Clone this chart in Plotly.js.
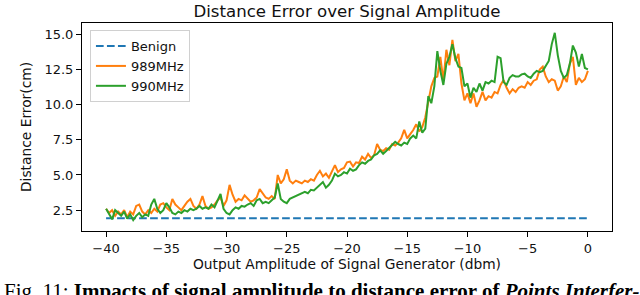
<!DOCTYPE html>
<html><head><meta charset="utf-8">
<script src="https://cdn.plot.ly/plotly-3.0.1.min.js"></script>
<style>html,body{margin:0;padding:0;background:#fff;overflow:hidden;} #chart{width:640px;height:295px;}</style>
</head><body><div id="chart"></div>
<script>
// x grid: -40 dBm to 0 dBm, one reading every 0.25 dBm
const xStart = -40;
const xStep = 0.25;

const err989 = [
  2.6, 2.3, 2.5, 2.1,
  2.4, 2.2, 2.5, 2.0,
  2.4, 2.2, 2.8, 2.9,
  2.4, 2.2, 2.5, 2.3,
  2.6, 2.4, 2.9, 3.0,
  2.7, 2.5, 3.3, 2.9,
  2.7, 2.5, 2.8, 3.1,
  3.3, 2.8, 2.6, 2.9,
  3.5, 2.8, 2.6, 2.7,
  2.9, 3.2, 3.4, 2.8,
  3.2, 4.3, 3.6, 3.1,
  3.3, 3.2, 3.55, 3.3,
  3.1, 3.2, 3.4, 4.0,
  3.7, 3.4, 3.3, 3.5,
  3.3, 5.0, 4.4, 4.7,
  5.4, 4.6, 4.4, 4.6,
  4.5, 4.4, 4.6, 4.5,
  4.7, 4.6, 5.0, 5.3,
  4.9, 5.1, 4.8, 5.3,
  5.7, 5.2, 5.4, 5.5,
  5.9, 5.95, 5.6, 5.9,
  5.85, 6.3, 6.1, 6.5,
  6.2, 6.4, 7.2, 6.8,
  6.7, 6.9, 6.8, 7.2,
  7.1, 7.3, 7.6, 8.2,
  7.6, 7.9, 8.2, 8.6,
  8.1, 8.4, 9.1, 10.2,
  11.3, 11.9, 12.0, 13.4,
  11.7, 13.9, 12.8, 14.6,
  13.1, 13.6, 11.5, 10.3,
  10.8, 10.1, 10.8, 9.85,
  10.3, 10.9, 10.3, 10.6,
  10.5, 10.9, 10.8, 11.4,
  11.75, 11.2, 10.8, 11.1,
  10.9, 11.2, 11.3, 11.2,
  11.6, 11.4, 11.7, 11.8,
  12.5, 12.7, 12.0, 11.6,
  11.8, 11.7, 11.0, 11.3,
  12.0, 11.6, 12.9, 13.4,
  11.4, 11.9, 11.6, 11.8,
  12.4
];

const err990 = [
  2.6, 2.2, 1.85, 2.5,
  2.3, 2.1, 2.4, 1.9,
  2.2, 1.8, 2.1, 2.3,
  2.0, 2.2, 2.1, 2.9,
  3.3, 2.6, 2.3, 2.5,
  3.0, 2.7, 2.3, 2.2,
  2.4, 2.3, 2.5, 2.4,
  2.6, 2.5, 2.6, 2.8,
  2.6, 2.7, 2.6, 2.9,
  2.7, 3.2, 3.65, 2.6,
  2.3, 2.2, 2.5, 2.7,
  2.6, 2.8, 2.75, 2.9,
  3.0, 2.8, 3.2, 3.3,
  3.0, 3.1, 3.0, 3.2,
  3.4, 4.4, 3.3, 3.1,
  3.0, 3.3, 3.4, 3.5,
  3.6, 3.7, 3.8, 3.7,
  3.95, 3.9, 4.1, 4.3,
  4.5, 4.1, 4.3, 4.6,
  5.1, 4.9, 5.0, 5.2,
  5.1, 5.45, 5.3, 5.4,
  5.7, 5.9, 5.8, 6.0,
  6.1, 6.4, 6.5, 6.75,
  6.5, 6.7, 6.9, 7.1,
  7.35, 7.2, 7.1, 7.3,
  7.2, 7.6, 7.8, 7.6,
  8.8, 8.0, 8.3, 10.6,
  10.1, 11.3, 13.8, 12.4,
  11.4, 12.9, 13.4, 14.3,
  13.3, 12.7, 12.6, 11.3,
  11.5, 10.5, 11.2, 10.9,
  11.5, 11.0, 11.6, 11.5,
  11.7, 11.6, 13.4, 13.3,
  11.6, 11.4, 11.9, 12.1,
  12.0, 12.0, 12.15, 12.2,
  12.0, 11.9, 12.2, 12.4,
  12.3, 12.4, 12.8, 13.1,
  14.3, 15.1, 13.5, 12.4,
  11.9, 12.1, 12.9, 14.2,
  13.7, 12.7, 13.6, 12.6,
  12.5
];

const benignX = [-40, 0];
const benignY = [1.93, 1.93];

const seriesNames = ['Benign', '989MHz', '990MHz'];
const xTickVals = [-40, -35, -30, -25, -20, -15, -10, -5, 0];
const yTickVals = [2.5, 5.0, 7.5, 10.0, 12.5, 15.0];

const chartTitle = 'Distance Error over Signal Amplitude';
const xTitle = 'Output Amplitude of Signal Generator (dbm)';
const yTitle = 'Distance Error(cm)';
const caption = 'Fig. 11: <b>Impacts of signal amplitude to distance error of <i>Points Interfer-</i></b>';

const xs = err989.map((_, i) => xStart + i * xStep);

const FONT = 'DejaVu Sans, sans-serif';
const TXT = '#111';
const TICK = 13;
const LAB = 13.8;

const traces = [
  {x: benignX, y: benignY, name: seriesNames[0], mode: 'lines',
   line: {color: '#1f77b4', width: 2, dash: '7.7px,3.3px'}},
  {x: xs, y: err989, name: seriesNames[1], mode: 'lines',
   line: {color: '#ff7f0e', width: 2}},
  {x: xs, y: err990, name: seriesNames[2], mode: 'lines',
   line: {color: '#2ca02c', width: 2}}
];

const axisCommon = {
  showline: true, mirror: true, linecolor: '#000', linewidth: 1,
  ticks: 'outside', ticklen: 5, tickwidth: 1, tickcolor: '#000',
  showgrid: false, zeroline: false,
  tickfont: {family: FONT, size: TICK, color: TXT}
};

const layout = {
  width: 640, height: 295,
  margin: {l: 82, r: 28, t: 23, b: 64},
  paper_bgcolor: '#fff', plot_bgcolor: '#fff',
  font: {family: FONT, size: TICK, color: TXT},
  title: {text: chartTitle, font: {family: FONT, size: 16.6, color: TXT},
          x: 0.5, xref: 'paper', xanchor: 'center', y: 1 - 11 / 295, yref: 'container', yanchor: 'middle'},
  xaxis: Object.assign({}, axisCommon, {
    range: [-42, 2], tickvals: xTickVals,
    title: {text: xTitle, font: {family: FONT, size: LAB, color: TXT}, standoff: 3}
  }),
  yaxis: Object.assign({}, axisCommon, {
    range: [1.02, 15.8], tickvals: yTickVals, tickformat: '.1f',
    title: {text: yTitle, font: {family: FONT, size: LAB, color: TXT}, standoff: 9}
  }),
  showlegend: true,
  legend: {x: 0.015, y: 0.966, xanchor: 'left', yanchor: 'top',
           bgcolor: 'rgba(255,255,255,0.8)', bordercolor: '#d0d0d0', borderwidth: 1,
           tracegroupgap: 0,
           font: {family: FONT, size: TICK, color: TXT}},
  annotations: [{
    text: caption, showarrow: false, xref: 'paper', yref: 'paper',
    x: -80 / 530, xanchor: 'left', y: -(277 - 231) / 208, yanchor: 'top',
    font: {family: 'Liberation Serif, serif', size: 21, color: '#000'}, align: 'left'
  }]
};

Plotly.newPlot('chart', traces, layout, {displayModeBar: false, staticPlot: true});
</script>
</body></html>
